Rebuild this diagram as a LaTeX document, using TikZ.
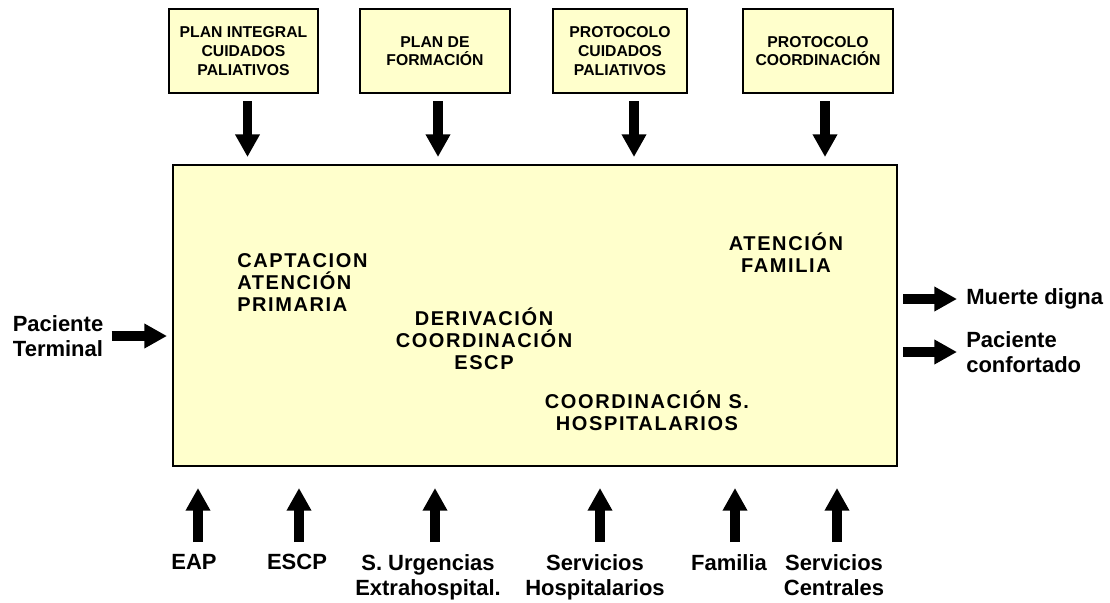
\documentclass[tikz,border=0pt]{standalone}
\usepackage{fontspec}
\setmainfont{Liberation Sans}
\newfontfamily\spacedfont[LetterSpace=8]{Liberation Sans}
\usetikzlibrary{arrows.meta}
\definecolor{boxyellow}{RGB}{255,255,204}

\begin{document}
\begin{tikzpicture}[x=0.75pt, y=-0.75pt,
    planbox/.style={draw, line width=1.5pt, fill=boxyellow, inner sep=0pt, minimum height=63pt, align=center, font=\fontsize{11.8}{14}\selectfont\bfseries},
    stage/.style={inner sep=0pt, align=center, font=\spacedfont\fontsize{15}{16.5}\selectfont\bfseries},
    outlabel/.style={inner sep=0pt, align=center, font=\fontsize{16.5}{18.8}\selectfont\bfseries},
    flow/.style={line width=7pt, -{Triangle[length=17pt, width=17.5pt]}}]
    \useasboundingbox (0,0) rectangle (1110,603);
    \node[planbox, minimum width=111.75pt] (plan) at (243.5,51) {PLAN INTEGRAL\\CUIDADOS\\PALIATIVOS};
    \node[planbox, minimum width=112.5pt] (form) at (435,51) {PLAN DE\\FORMACIÓN};
    \node[planbox, minimum width=100.5pt] (proto) at (620,51) {PROTOCOLO\\CUIDADOS\\PALIATIVOS};
    \node[planbox, minimum width=112.5pt] (coord) at (818,51) {PROTOCOLO\\COORDINACIÓN};
    \node[draw, line width=1.5pt, fill=boxyellow, inner sep=0pt, minimum width=543pt, minimum height=225.75pt] (main) at (535,315.5) {};
    \node[stage, anchor=west, align=left] (capt) at (237,283) {CAPTACION\\ATENCIÓN\\PRIMARIA};
    \node[stage] (deriv) at (484,339) {DERIVACIÓN\\COORDINACIÓN\\ESCP};
    \node[stage] (fam) at (786,253) {ATENCIÓN\\FAMILIA};
    \node[stage] (hosp) at (647,411) {COORDINACIÓN S.\\HOSPITALARIOS};
    \node[outlabel] (term) at (58,336) {Paciente\\Terminal};
    \node[outlabel, anchor=west] (digna) at (966,299) {Muerte digna};
    \node[outlabel, anchor=west, align=left] (conf) at (966,352) {Paciente\\confortado};
    \node[outlabel, anchor=north] (eap) at (194,554) {EAP};
    \node[outlabel, anchor=north] (escp) at (297,554) {ESCP};
    \node[outlabel, anchor=north] (urg) at (428,554) {S. Urgencias\\Extrahospital.};
    \node[outlabel, anchor=north] (shosp) at (595,554) {Servicios\\Hospitalarios};
    \node[outlabel, anchor=north] (famil) at (729,554) {Familia};
    \node[outlabel, anchor=north] (scent) at (834,554) {Servicios\\Centrales};
    \foreach \n/\dx in {plan/4, form/3, proto/14, coord/7}
        \draw[flow, shorten <=5.25pt, shorten >=5.25pt] ([xshift=\dx*0.75pt]\n.south) -- ([xshift=\dx*0.75pt]\n.south |- main.north);
    \foreach \n/\x in {eap/198, escp/299, urg/435, shosp/600, famil/735, scent/837} {
        \coordinate (src\n) at (\x,542);
        \draw[flow, shorten >=15.75pt] (src\n) -- (src\n |- main.south);
    }
    \draw[flow, shorten <=6pt, shorten >=3.75pt] (term.east) -- (term.east -| main.west);
    \draw[flow, shorten <=3.75pt, shorten >=6.75pt] (main.east |- digna.west) -- (digna.west);
    \draw[flow, shorten <=3.75pt, shorten >=6.75pt] (main.east |- conf.west) -- (conf.west);
\end{tikzpicture}
\end{document}
